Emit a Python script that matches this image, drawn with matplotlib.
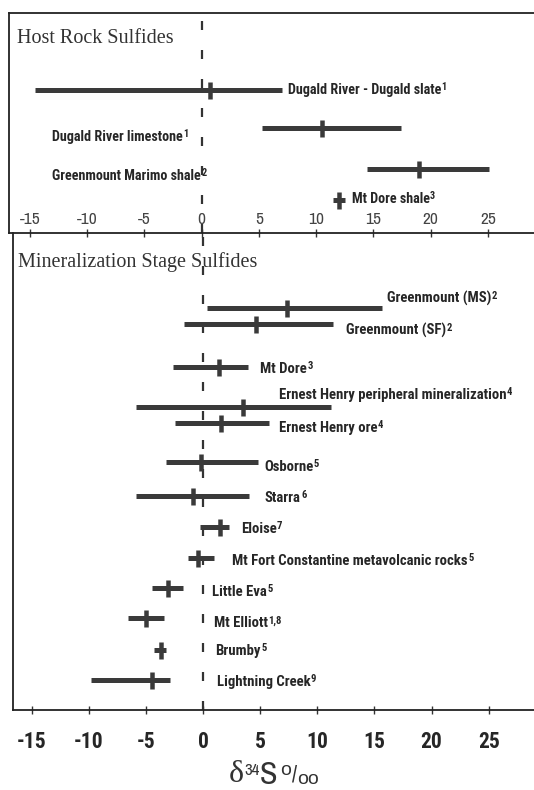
import matplotlib
matplotlib.use("Agg")
import matplotlib.pyplot as plt
from matplotlib import font_manager as fm

# ---------------- data ----------------
host_names = ["Dugald River - Dugald slate", "Dugald River limestone",
              "Greenmount Marimo shale", "Mt Dore shale"]
host_refs = ["1", "1", "2", "3"]
host_min = [-14.6, 5.3, 14.4, 11.5]
host_max = [7.0, 17.4, 25.1, 12.5]
host_mean = [0.7, 10.5, 19.0, 12.0]

min_names = ["Greenmount (MS)", "Greenmount (SF)", "Mt Dore",
             "Ernest Henry peripheral mineralization", "Ernest Henry ore",
             "Osborne", "Starra", "Eloise", "Mt Fort Constantine metavolcanic rocks",
             "Little Eva", "Mt Elliott", "Brumby", "Lightning Creek"]
min_refs = ["2", "2", "3", "4", "4", "5", "6", "7", "5", "5", "1,8", "5", "9"]
min_min = [0.35, -1.7, -2.6, -5.9, -2.45, -3.2, -5.9, -0.25, -1.3, -4.5, -6.6, -4.3, -9.8]
min_max = [15.7, 11.4, 3.9, 11.2, 5.8, 4.8, 4.0, 2.3, 1.0, -1.75, -3.4, -3.25, -2.9]
min_mean = [7.35, 4.6, 1.4, 3.5, 1.6, -0.2, -0.85, 1.5, -0.4, -3.1, -5.0, -3.7, -4.45]

tick_values = [-15, -10, -5, 0, 5, 10, 15, 20, 25]
tick_labels = ["-15", "-10", "-5", "0", "5", "10", "15", "20", "25"]

# ---------------- layout (pixel rows / label anchors) ----------------
W, H = 534, 790
host_rows = [90, 128, 169, 200]
host_label_x = [7.5, -13.07, -13.07, 13.1]
host_label_y = [94, 141, 180, 203]
min_rows = [308, 324, 367, 407, 423, 462, 496, 527, 558, 588, 618, 650, 680]
min_label_x = [16.1, 12.5, 5.0, 6.65, 6.65, 5.35, 5.4, 3.3, 2.55, 0.8, 0.96, 1.1, 1.2]
min_label_y = [303, 335, 373, 399, 432, 471, 502, 533, 565, 596, 627, 655, 686]

# pick a condensed family that has a bold face
installed = {(f.name, f.weight) for f in fm.fontManager.ttflist}
def has_bold(name):
    return any(n == name and (w == "bold" or (isinstance(w, int) and w >= 600)) for n, w in installed)
bold_family = "DejaVu Sans"
for cand in ["Roboto Condensed", "PT Sans Narrow", "Archivo Narrow", "Open Sans Condensed",
             "Barlow Semi Condensed", "Asap Condensed"]:
    if has_bold(cand):
        bold_family = cand
        break
BOLD = [bold_family, "DejaVu Sans"]
NARROW = ["Archivo Narrow", "DejaVu Sans"]
SERIF = ["Liberation Serif", "DejaVu Serif"]
ROUND = ["Liberation Sans", "DejaVu Sans"]
BAR = "#3a3a3a"
TXT = "#262626"
plt.rcParams["lines.scale_dashes"] = False

fig = plt.figure(figsize=(W / 100, H / 100), dpi=100)
fig.patch.set_facecolor("white")

px = 0.72  # points per pixel

def ax_rect(left, top, right, bottom):
    return [left / W, 1 - bottom / H, (right - left) / W, (bottom - top) / H]

# top panel: 0 at 201.7px, 11.45 px/unit, left 9, right 545
ax1 = fig.add_axes(ax_rect(9, 13, 545, 233))
ax1.set_xlim((9 - 201.7) / 11.45, (545 - 201.7) / 11.45)
ax1.set_ylim(233, 13)
# bottom panel: 0 at 203px, 11.43 px/unit, left 13
ax2 = fig.add_axes(ax_rect(13, 233, 545, 710))
ax2.set_xlim((13 - 203) / 11.43, (545 - 203) / 11.43)
ax2.set_ylim(710, 233)

for ax in (ax1, ax2):
    ax.set_facecolor("none")
    ax.spines["right"].set_visible(False)
    for s in ax.spines.values():
        s.set_linewidth(1.3)
        s.set_color("#222222")
    ax.set_yticks([])
    ax.set_xticks(tick_values)
    ax.tick_params(axis="x", direction="inout", length=8 * px, width=1.0, color="#333333")
    ax.axvline(0, color="#333333", lw=1.6, dashes=(9 * px, 20 * px), zorder=1)

ax2.spines["top"].set_visible(False)
ax1.tick_params(axis="x", labelbottom=False)
ax2.set_xticklabels(tick_labels, fontfamily=BOLD, fontweight="bold",
                    fontsize=15.5, color=TXT)
ax2.tick_params(axis="x", pad=12)

# top panel tick labels (inside the panel)
for v, lab in zip(tick_values, tick_labels):
    ax1.text(v, 220, lab, ha="center", va="center", fontfamily=NARROW,
             fontsize=12.5, color="#444444")

# titles
ax1.text(0.015, 43, "Host Rock Sulfides", transform=ax1.get_yaxis_transform(),
         fontfamily=SERIF, fontsize=14.5, color="#333333", va="baseline")
ax2.text(0.01, 267, "Mineralization Stage Sulfides", transform=ax2.get_yaxis_transform(),
         fontfamily=SERIF, fontsize=14.5, color="#333333", va="baseline")


def draw_rows(ax, rows, mins, maxs, means, names, refs, lx, ly, fs):
    for y, a, b, m, n, r, x0, y0 in zip(rows, mins, maxs, means, names, refs, lx, ly):
        ax.hlines(y, a, b, color=BAR, lw=5 * px, zorder=3)
        ax.plot([m], [y], marker="|", ms=17 * px, mew=4.5 * px, color=BAR, zorder=4)
        t = ax.text(x0, y0, n, fontfamily=BOLD, fontweight="bold", fontsize=fs,
                    color=TXT, va="baseline", ha="left")
        ax.annotate(r, xy=(1, 1), xycoords=t, xytext=(0.3, 0.5), textcoords="offset points",
                    ha="left", va="top", fontfamily=BOLD, fontweight="bold",
                    fontsize=fs * 0.72, color=TXT)


draw_rows(ax1, host_rows, host_min, host_max, host_mean, host_names, host_refs,
          host_label_x, host_label_y, 10.2)
draw_rows(ax2, min_rows, min_min, min_max, min_mean, min_names, min_refs,
          min_label_x, min_label_y, 10.6)

# x-axis label: delta 34 S per mil
lab_kw = dict(fontfamily=NARROW, color="#333333", annotation_clip=False)
rnd_kw = dict(fontfamily=ROUND, color="#333333", annotation_clip=False)
t1 = ax2.text(229 / W, 1 - 782 / H, "\u03b4", fontsize=23, va="baseline",
              transform=fig.transFigure, fontfamily=SERIF, color="#333333")
t2 = ax2.annotate("34", xy=(1, 1), xycoords=t1, xytext=(0, -2), textcoords="offset points",
                  fontsize=12, va="top", ha="left", **lab_kw)
t3 = ax2.annotate("S", xy=(1, 0), xycoords=(t2, t1), xytext=(0, 0), textcoords="offset points",
                  fontsize=23, va="bottom", ha="left", **lab_kw)
t4 = ax2.annotate("o", xy=(1, 1), xycoords=t3, xytext=(2.5, -1), textcoords="offset points",
                  fontsize=14, va="top", ha="left", **rnd_kw)
t5 = ax2.annotate("/", xy=(1, 0), xycoords=(t4, t3), xytext=(0.8, 3), textcoords="offset points",
                  fontsize=16, va="bottom", ha="left", **lab_kw)
t6 = ax2.annotate("oo", xy=(1, 0), xycoords=(t5, t3), xytext=(-0.5, 1), textcoords="offset points",
                  fontsize=14, va="bottom", ha="left", **rnd_kw)

fig.savefig("out.png", dpi=100, facecolor="white")
